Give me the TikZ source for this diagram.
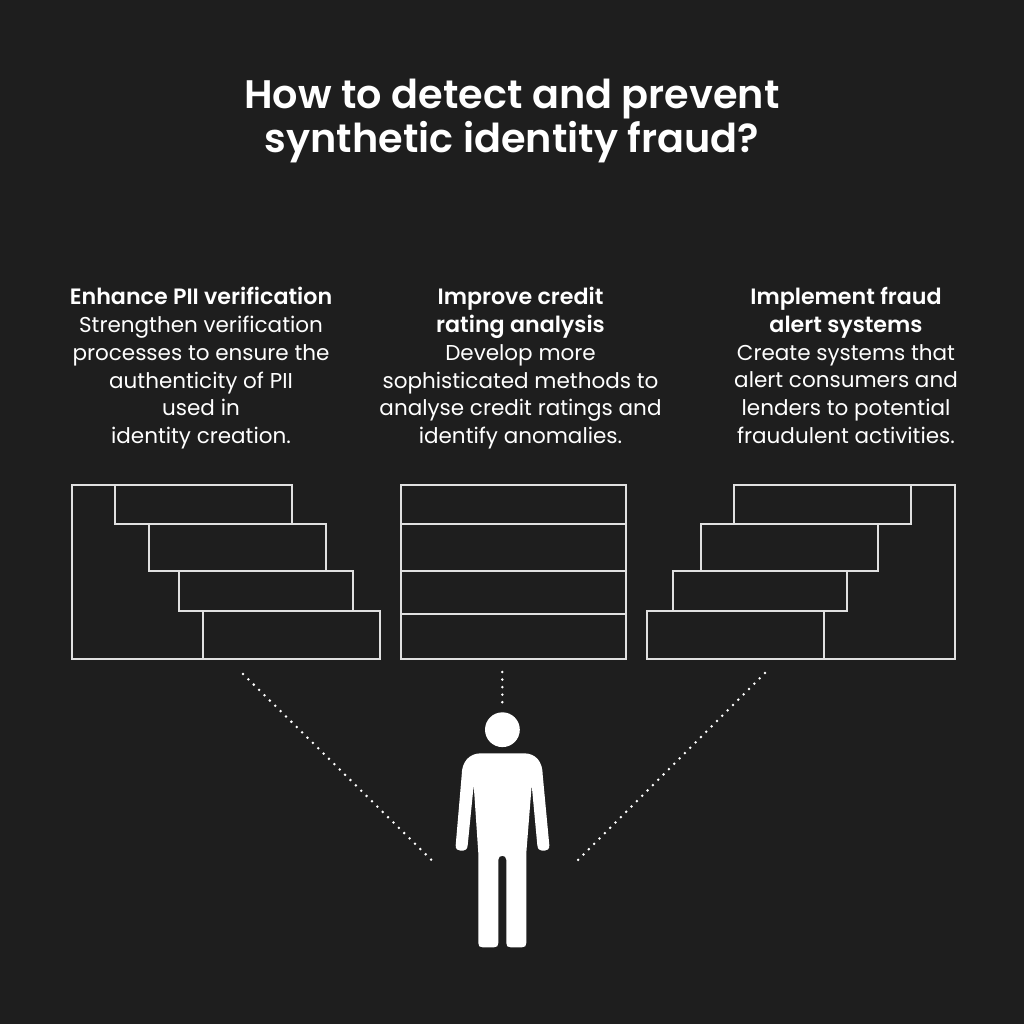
\documentclass[tikz,border=0pt]{standalone}
\usepackage{fontspec}
\setmainfont{Poppins}
\newfontfamily\semib{Poppins SemiBold}
\definecolor{bg}{HTML}{1E1E1E}
\newcommand{\hd}[1]{{\fontsize{22.2}{27.8}\selectfont\semib #1}}
\tikzset{
  rowbox/.style={draw=white!88!black,line width=1.3pt,fill=none},
  titletext/.style={text=white,align=center,inner sep=0pt,font=\fontsize{39.8}{44.5}\selectfont\semib},
  bodytext/.style={text=white,align=center,inner sep=0pt,anchor=north,font=\fontsize{21.5}{27.8}\selectfont},
  dots/.style={white,line width=2.8pt,line cap=round,dash pattern=on 0pt off 7.55pt},
  figure/.style={fill=white,draw=none}
}
\begin{document}
\begin{tikzpicture}[x=1pt,y=-1pt]
\fill[bg] (0,0) rectangle (1024,1024);
\useasboundingbox (0,0) rectangle (1024,1024);
\node[titletext] (title) at (512,121) {How to detect and prevent\\synthetic identity fraud?};
\node[bodytext] (t1) at (201,287) {\hd{Enhance PII verification}\\Strengthen verification\\processes to ensure the\\authenticity of PII\\used in\\identity creation.};
\node[bodytext] (t2) at (520.5,287) {\hd{Improve credit}\\\hd{rating analysis}\\Develop more\\sophisticated methods to\\analyse credit ratings and\\identify anomalies.};
\node[bodytext] (t3) at (846,287) {\hd{Implement fraud}\\\hd{alert systems}\\Create systems that\\alert consumers and\\lenders to potential\\fraudulent activities.};
% left stack
\draw[rowbox] (115,485) -- (72,485) -- (72,659) -- (203,659);
\draw[rowbox] (115,485) rectangle (292,524);
\draw[rowbox] (149,524) rectangle (326,571);
\draw[rowbox] (179,571) rectangle (353,611);
\draw[rowbox] (203,611) rectangle (380,659);
% middle stack
\draw[rowbox] (401,485) rectangle (626,524);
\draw[rowbox] (401,524) rectangle (626,571);
\draw[rowbox] (401,571) rectangle (626,614);
\draw[rowbox] (401,614) rectangle (626,659);
% right stack
\draw[rowbox] (911,485) -- (955,485) -- (955,659) -- (824,659);
\draw[rowbox] (734,485) rectangle (911,524);
\draw[rowbox] (701,524) rectangle (878,571);
\draw[rowbox] (673,571) rectangle (847,611);
\draw[rowbox] (647,611) rectangle (824,659);
% dots
\coordinate (la) at (243,674); \coordinate (lb) at (434.5,863);
\coordinate (ma) at (502.3,672); \coordinate (mb) at (502.3,705);
\coordinate (ra) at (765,673); \coordinate (rb) at (575,863);
\draw[dots] (la) -- (lb);
\draw[dots] (ma) -- (mb);
\draw[dots] (ra) -- (rb);
% person
\fill[figure] (502.4,729.7) circle (17.4);
\fill[figure] (481,753.3) -- (524,753.3)
  .. controls (536,753.3) and (542.7,762) .. (542.7,775)
  -- (549.3,845) .. controls (549.6,849) and (547.5,850.7) .. (544.5,850.7)
  -- (542,850.7) .. controls (539.5,850.7) and (537.6,849) .. (537.3,845)
  -- (531.7,785) -- (526.3,853) -- (526.3,943)
  .. controls (526.3,946) and (525,947.3) .. (522,947.3)
  -- (510.5,947.3) .. controls (507.5,947.3) and (506.3,946) .. (506.3,943)
  -- (506.3,859.7) .. controls (506.3,854.5) and (498.3,854.5) .. (498.3,859.7)
  -- (498.3,943) .. controls (498.3,946) and (497,947.3) .. (494,947.3)
  -- (482.5,947.3) .. controls (479.5,947.3) and (478.3,946) .. (478.3,943)
  -- (478.3,853) -- (473.7,785) -- (467.7,845)
  .. controls (467.4,849) and (465.5,850.7) .. (463,850.7)
  -- (460.5,850.7) .. controls (457.5,850.7) and (455.4,849) .. (455.7,845)
  -- (461.7,775) .. controls (461.7,762) and (469,753.3) .. (481,753.3) -- cycle;
\end{tikzpicture}
\end{document}
